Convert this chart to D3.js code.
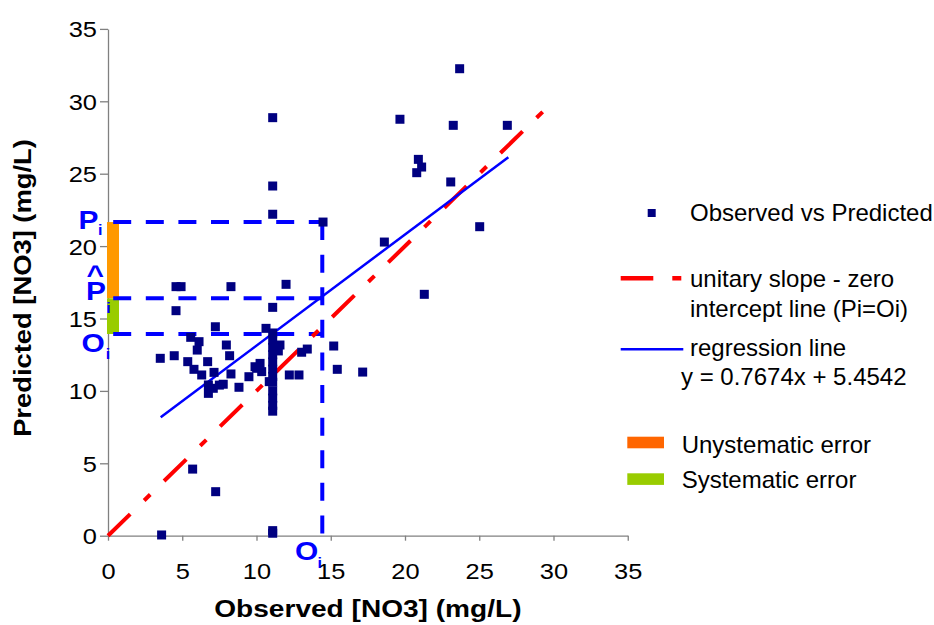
<!DOCTYPE html>
<html><head><meta charset="utf-8">
<script src="https://cdn.jsdelivr.net/npm/d3@7"></script>
<style>
body{margin:0;background:#fff}
svg{display:block}
text{font-family:Arial,"Liberation Sans",sans-serif}
</style>
</head><body>
<svg id="chart" width="934" height="625"></svg>
<script>
// ---------- data ----------
const observedValues = [
  23.68, 19.66, 23.25, 26.89, 20.90, 21.12, 20.79, 23.08, 25.03, 18.61, 21.30,
  11.09, 11.09, 11.09, 14.48,
  11.99, 11.09, 10.64, 11.09, 11.09, 11.09, 11.09, 11.09, 11.09, 11.09, 11.09, 11.09, 11.09, 11.09, 11.09, 11.09, 11.09,
  11.58, 11.47, 13.04, 13.42, 15.20, 15.44, 17.15, 12.21, 12.86, 10.86, 10.24, 10.01, 10.35,
  3.61, 5.70, 7.25,
  4.58, 4.92, 8.28, 4.58, 7.23, 5.57, 6.13, 6.01, 7.97, 3.52, 4.46, 5.37, 6.71, 8.19,
  5.79, 6.31, 7.14, 8.28, 6.76, 7.09, 7.76, 8.82, 6.76, 9.49, 9.90, 7.50
];
const predictedValues = [
  32.25, 28.76, 28.34, 28.34, 25.99, 25.46, 25.07, 24.43, 21.34, 20.28, 16.67,
  28.87, 24.15, 22.20, 21.66,
  17.36, 15.77, 14.32, 14.00, 13.50, 13.00, 12.50, 12.00, 11.50, 11.00, 10.60, 10.00, 9.50, 9.00, 8.60, 0.17, 0.35,
  13.17, 12.76, 12.67, 12.89, 13.10, 11.49, 11.30, 11.10, 11.10, 10.64, 11.90, 11.56, 11.33,
  0.05, 4.60, 3.04,
  17.20, 17.20, 17.20, 15.54, 14.43, 13.70, 13.40, 12.82, 13.17, 12.25, 12.43, 12.02, 12.02, 12.43,
  11.49, 11.10, 11.28, 11.17, 10.41, 10.18, 10.46, 10.25, 9.83, 10.98, 11.67, 10.40
];
const xTickValues = [0, 5, 10, 15, 20, 25, 30, 35];
const yTickValues = [0, 5, 10, 15, 20, 25, 30, 35];
const regressionSlope = 0.7674;
const regressionIntercept = 5.4542;
const regressionRange = [3.55, 26.96];
const unityRange = [0, 29.4];
// highlighted example point: observed Oi, predicted Pi, regression P^i, observed level
const exampleObserved = 14.43;
const examplePredicted = 21.66;
const exampleRegression = 16.39;
const exampleObservedLevel = 13.93;
const exampleLineStart = 0.35;
const legendLabels = ["Observed vs Predicted", "unitary slope - zero", "intercept line (Pi=Oi)",
  "regression line", "y = 0.7674x + 5.4542", "Unystematic error", "Systematic error"];
const xTitle = "Observed [NO3] (mg/L)";
const yTitle = "Predicted [NO3] (mg/L)";

// ---------- drawing ----------
const svg = d3.select("#chart");
const x = d3.scaleLinear().domain([0, 35]).range([108, 627.75]);
const y = d3.scaleLinear().domain([0, 35]).range([535.7, 28.9]);
const axisColor = "#808080";
const tickFont = 22.5;

// axes
const gx = svg.append("g").attr("transform", `translate(0,${y(0)})`)
  .call(d3.axisBottom(x).tickValues(xTickValues).tickSize(5).tickSizeOuter(0).tickFormat(d3.format("d")));
gx.select(".domain").attr("stroke", axisColor).attr("stroke-width", 1.3);
gx.selectAll(".tick line").attr("stroke", axisColor).attr("stroke-width", 1.3);
gx.selectAll(".tick text").attr("y", 0).attr("dy", 0).attr("fill", "#000")
  .attr("font-size", tickFont).attr("font-family", "Arial, 'Liberation Sans', sans-serif")
  .attr("transform", "translate(0,43) scale(1.13,1)");

const gy = svg.append("g").attr("transform", `translate(${x(0)},0)`)
  .call(d3.axisLeft(y).tickValues(yTickValues).tickSize(8).tickSizeOuter(0).tickFormat(d3.format("d")));
gy.select(".domain").attr("stroke", axisColor).attr("stroke-width", 1.3);
gy.selectAll(".tick line").attr("stroke", axisColor).attr("stroke-width", 1.3);
gy.selectAll(".tick text").attr("x", 0).attr("dy", 0).attr("fill", "#000")
  .attr("font-size", tickFont).attr("font-family", "Arial, 'Liberation Sans', sans-serif")
  .attr("transform", "translate(-11,8) scale(1.13,1)");

// axis titles
svg.append("text").text(xTitle)
  .attr("font-size", 24).attr("font-weight", "bold").attr("text-anchor", "middle")
  .attr("transform", `translate(${(x(0) + x(35)) / 2},617) scale(1.17,1)`);
svg.append("text").text(yTitle)
  .attr("font-size", 24).attr("font-weight", "bold").attr("text-anchor", "middle")
  .attr("transform", `translate(31,288) rotate(-90) scale(1.14,1)`);

// error bars at left
const barX = x(0) - 1, barW = 12;
svg.append("rect").attr("x", barX).attr("width", barW)
  .attr("y", y(examplePredicted)).attr("height", y(exampleRegression) - y(examplePredicted))
  .attr("fill", "#FF9900");
svg.append("rect").attr("x", barX).attr("width", barW)
  .attr("y", y(exampleRegression)).attr("height", y(exampleObservedLevel) - y(exampleRegression))
  .attr("fill", "#99CC00");

// dashed guide lines
const guide = svg.append("g").attr("stroke", "#0000FF").attr("stroke-width", 4)
  .attr("stroke-dasharray", "18,14.6").attr("fill", "none");
[examplePredicted, exampleRegression, exampleObservedLevel].forEach(v => {
  guide.append("line").attr("x1", x(exampleLineStart)).attr("x2", x(exampleObserved))
    .attr("y1", y(v)).attr("y2", y(v));
});
guide.append("line").attr("x1", x(exampleObserved)).attr("x2", x(exampleObserved))
  .attr("y1", y(examplePredicted)).attr("y2", y(0));

// unity line
svg.append("line")
  .attr("x1", x(unityRange[0])).attr("y1", y(unityRange[0]))
  .attr("x2", x(unityRange[1])).attr("y2", y(unityRange[1]))
  .attr("stroke", "#FF0000").attr("stroke-width", 4)
  .attr("stroke-dasharray", "31,19.5,8.5,19.3");

// regression line
svg.append("line")
  .attr("x1", x(regressionRange[0])).attr("y1", y(regressionSlope * regressionRange[0] + regressionIntercept))
  .attr("x2", x(regressionRange[1])).attr("y2", y(regressionSlope * regressionRange[1] + regressionIntercept))
  .attr("stroke", "#0000FF").attr("stroke-width", 2.5);

// points
const pts = d3.zip(observedValues, predictedValues);
const ms = 9;
svg.append("g").selectAll("rect").data(pts).join("rect")
  .attr("x", d => x(d[0]) - ms / 2).attr("y", d => y(d[1]) - ms / 2)
  .attr("width", ms).attr("height", ms).attr("fill", "#000080");

// blue annotation labels
const lab = svg.append("g").attr("fill", "#0000FF").attr("font-weight", "bold");
function sub(big, small, bx, by, sx, sy) {
  lab.append("text").text(big).attr("font-size", 26)
    .attr("transform", `translate(${bx},${by}) scale(1.15,1)`);
  lab.append("text").text(small).attr("font-size", 14)
    .attr("transform", `translate(${sx},${sy}) scale(1.15,1)`);
}
sub("P", "i", 78.5, 228.5, 98, 235);
lab.append("text").text("^").attr("font-size", 26)
  .attr("transform", "translate(86.5,284) scale(1.15,1)");
sub("P", "i", 86, 300, 106.3, 313);
sub("O", "i", 81.5, 351.7, 105.8, 359.3);
sub("O", "i", 295, 560, 317.5, 568);

// legend
const lg = svg.append("g");
const lt = (t, tx, ty) => lg.append("text").text(t).attr("x", tx).attr("y", ty).attr("font-size", 24).attr("fill", "#000");
lg.append("rect").attr("x", 647.7).attr("y", 209).attr("width", 8).attr("height", 8).attr("fill", "#000080");
lt(legendLabels[0], 690, 220.7);
lg.append("line").attr("x1", 620.7).attr("x2", 681.7).attr("y1", 278.3).attr("y2", 278.3)
  .attr("stroke", "#FF0000").attr("stroke-width", 4.5).attr("stroke-dasharray", "32.6,19,9,100");
lt(legendLabels[1], 690, 286.7);
lt(legendLabels[2], 690, 316.7);
lg.append("line").attr("x1", 620.7).attr("x2", 683.3).attr("y1", 349.3).attr("y2", 349.3)
  .attr("stroke", "#0000FF").attr("stroke-width", 2.5);
lt(legendLabels[3], 690, 355.7);
lt(legendLabels[4], 681, 385);
lg.append("rect").attr("x", 627.3).attr("y", 436.7).attr("width", 36.7).attr("height", 11.6).attr("fill", "#FF6600");
lt(legendLabels[5], 681.7, 453.3);
lg.append("rect").attr("x", 627.3).attr("y", 473.3).attr("width", 36.7).attr("height", 11.6).attr("fill", "#99CC00");
lt(legendLabels[6], 681.7, 488.3);
</script>
</body></html>
